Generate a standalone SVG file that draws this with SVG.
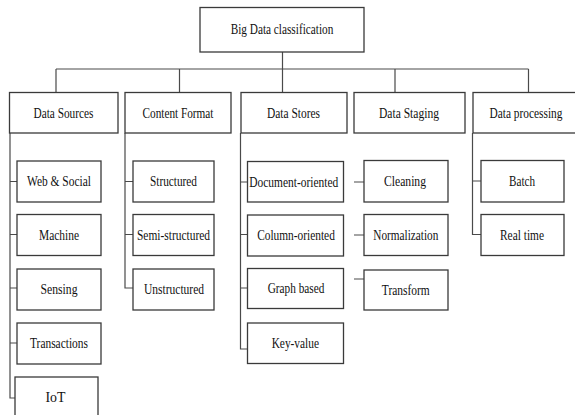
<svg xmlns="http://www.w3.org/2000/svg" width="575" height="415" viewBox="0 0 575 415">
<style>
.box{fill:#fff;stroke:#3a3a3a;stroke-width:1.3}
.ln{fill:none;stroke:#4a4a4a;stroke-width:1.2}
text{font-family:"Liberation Serif","Times New Roman",serif;font-size:14px;fill:#111;text-anchor:middle}
</style>
<rect width="575" height="415" fill="#fff"/>
<g id="connectors" class="ln">
<path d="M282.5 52V92.5M56 69H528.5M56 69V92.5M179.5 69V92.5M395 69V92.5M528.5 69V92.5"/>
<path d="M10 133V398H16M10 181.5H17M10 234.5H17M10 288H17M10 343H17"/>
<path d="M125 133V288H133M125 181.5H133M125 234.5H133"/>
<path d="M240.5 133V349H247.5M240.5 182H247.5M240.5 234.5H247.5M240.5 288H247.5"/>
<path d="M354 182H364M354 235H364M354 279H364"/>
<path d="M472.5 133V234.5H481M472.5 181H481"/>
</g>
<g id="root"><rect class="box" x="200" y="7.5" width="164" height="44.5"/><text x="282" y="34" textLength="102.6" lengthAdjust="spacingAndGlyphs">Big Data classification</text></g>
<g id="data-sources"><rect class="box" x="9.5" y="92.5" width="108.5" height="40.5"/><text x="63.5" y="118" textLength="60" lengthAdjust="spacingAndGlyphs">Data Sources</text></g>
<g id="content-format"><rect class="box" x="125" y="92.5" width="106" height="40.5"/><text x="178" y="118" textLength="71" lengthAdjust="spacingAndGlyphs">Content Format</text></g>
<g id="data-stores"><rect class="box" x="241" y="92.5" width="106" height="40.5"/><text x="293.5" y="118" textLength="53" lengthAdjust="spacingAndGlyphs">Data Stores</text></g>
<g id="data-staging"><rect class="box" x="354" y="92.5" width="111" height="40.5"/><text x="409" y="118" textLength="60" lengthAdjust="spacingAndGlyphs">Data Staging</text></g>
<g id="data-processing"><rect class="box" x="473" y="92.5" width="103" height="40.5"/><text x="526" y="118" textLength="73" lengthAdjust="spacingAndGlyphs">Data processing</text></g>

<g id="web-social"><rect class="box" x="17" y="161" width="84" height="41"/><text x="59" y="186" textLength="64" lengthAdjust="spacingAndGlyphs">Web &amp; Social</text></g>
<g id="machine"><rect class="box" x="17" y="214.5" width="84" height="41"/><text x="59" y="239.5" textLength="40" lengthAdjust="spacingAndGlyphs">Machine</text></g>
<g id="sensing"><rect class="box" x="17" y="269" width="84" height="41"/><text x="59" y="294" textLength="37" lengthAdjust="spacingAndGlyphs">Sensing</text></g>
<g id="transactions"><rect class="box" x="17" y="323" width="84" height="41"/><text x="59" y="348" textLength="58" lengthAdjust="spacingAndGlyphs">Transactions</text></g>
<g id="iot"><rect class="box" x="15" y="377" width="83" height="45"/><text x="55.5" y="402" textLength="20" lengthAdjust="spacingAndGlyphs">IoT</text></g>

<g id="structured"><rect class="box" x="133" y="161" width="81" height="41"/><text x="173.5" y="186" textLength="47" lengthAdjust="spacingAndGlyphs">Structured</text></g>
<g id="semi-structured"><rect class="box" x="133" y="214.5" width="81" height="41"/><text x="173.5" y="239.5" textLength="73" lengthAdjust="spacingAndGlyphs">Semi-structured</text></g>
<g id="unstructured"><rect class="box" x="133" y="269" width="81" height="41"/><text x="174" y="294" textLength="60" lengthAdjust="spacingAndGlyphs">Unstructured</text></g>

<g id="document-oriented"><rect class="box" x="247.5" y="161.5" width="96" height="40.5"/><text x="293.8" y="186.5" textLength="89" lengthAdjust="spacingAndGlyphs">Document-oriented</text></g>
<g id="column-oriented"><rect class="box" x="247.5" y="215" width="96" height="41"/><text x="296" y="240" textLength="77.7" lengthAdjust="spacingAndGlyphs">Column-oriented</text></g>
<g id="graph-based"><rect class="box" x="247.5" y="268.5" width="96" height="40"/><text x="296" y="293" textLength="56.7" lengthAdjust="spacingAndGlyphs">Graph based</text></g>
<g id="key-value"><rect class="box" x="247.5" y="323" width="96" height="40.5"/><text x="295.3" y="348" textLength="47.3" lengthAdjust="spacingAndGlyphs">Key-value</text></g>

<g id="cleaning"><rect class="box" x="364" y="160.5" width="84" height="41.5"/><text x="405" y="186" textLength="42" lengthAdjust="spacingAndGlyphs">Cleaning</text></g>
<g id="normalization"><rect class="box" x="364" y="214.5" width="84" height="41"/><text x="405.8" y="239.5" textLength="65" lengthAdjust="spacingAndGlyphs">Normalization</text></g>
<g id="transform"><rect class="box" x="364" y="270" width="84" height="40"/><text x="405.8" y="294.5" textLength="48" lengthAdjust="spacingAndGlyphs">Transform</text></g>

<g id="batch"><rect class="box" x="481" y="160.5" width="83" height="41.5"/><text x="522" y="186" textLength="26" lengthAdjust="spacingAndGlyphs">Batch</text></g>
<g id="real-time"><rect class="box" x="481" y="214.5" width="83" height="41"/><text x="522" y="239.5" textLength="44" lengthAdjust="spacingAndGlyphs">Real time</text></g>
</svg>
